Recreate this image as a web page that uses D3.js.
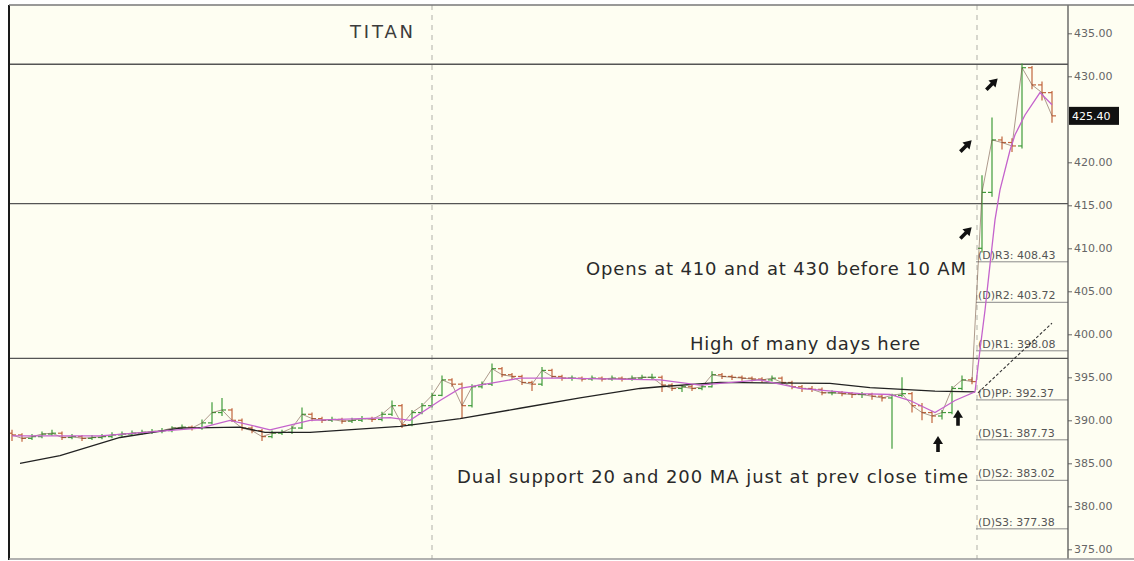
<!DOCTYPE html>
<html lang="en">
<head>
<meta charset="utf-8">
<script src="https://d3js.org/d3.v7.min.js"></script>
<style>
  body { margin: 0; background: #ffffff; }
  text { font-family: 'DejaVu Sans', Verdana, sans-serif; }
</style>
</head>
<body>
<div id="chart"></div>
<script>

// bar data, one bar per step (index), prices in rupees
var opens = [388.5,388.3,387.9,388.1,388.4,388.5,388.0,388.1,387.9,388.0,
  388.1,388.3,388.4,388.5,388.6,388.7,388.8,389.1,389.2,389.1,
  389.7,390.9,391.2,390.0,389.1,388.8,388.1,388.5,388.6,389.1,
  390.7,390.2,390.0,390.1,389.9,390.0,390.2,390.1,390.7,391.7,
  389.5,390.9,391.7,392.9,394.7,394.2,391.7,393.9,394.2,396.0,
  395.3,395.1,394.4,394.2,395.8,395.1,394.9,394.9,394.8,394.9,
  394.8,394.9,394.8,394.9,395.0,395.0,394.1,393.7,393.9,393.7,
  393.9,395.3,395.1,395.0,394.9,394.8,394.7,394.9,394.4,393.9,
  393.7,393.6,393.2,393.2,393.1,393.0,393.0,392.8,392.6,392.9,
  393.1,391.7,390.9,390.5,390.9,393.7,394.7,410.0,416.5,422.6,
  422.3,421.9,431.0,429.0,428.1];
var highs = [388.9,388.5,388.4,388.7,388.9,388.7,388.4,388.3,388.3,388.4,
  388.6,388.7,388.8,388.9,389.0,389.1,389.3,389.5,389.4,390.1,
  392.1,392.6,391.4,390.2,389.3,389.0,388.8,388.9,389.4,391.5,
  390.9,390.4,390.4,390.3,390.3,390.5,390.4,391.0,392.3,391.9,
  391.2,392.0,393.2,395.2,394.9,394.4,394.2,394.5,396.6,396.2,
  395.5,395.3,394.6,396.2,396.0,395.3,395.2,395.1,395.2,395.1,
  395.2,395.1,395.2,395.3,395.4,395.2,394.3,394.1,394.1,394.2,
  395.7,395.5,395.3,395.2,395.1,395.0,395.2,395.1,394.6,394.1,
  394.0,393.8,393.5,393.4,393.3,393.3,393.2,393.0,393.1,395.0,
  393.3,392.0,391.1,391.2,394.0,395.2,395.0,418.5,425.2,423.0,
  422.8,431.5,431.2,429.4,428.3];
var lows = [387.6,387.5,387.7,387.9,388.2,387.7,387.8,387.6,387.7,387.8,
  387.9,388.1,388.2,388.3,388.4,388.5,388.6,388.9,388.8,388.9,
  389.5,390.5,389.8,388.8,388.5,387.6,387.9,388.3,388.4,389.0,
  389.9,389.7,389.8,389.6,389.7,389.8,389.8,389.9,390.5,389.1,
  389.3,390.7,391.5,392.8,393.9,390.2,391.5,393.7,394.0,395.0,
  394.8,394.1,393.4,394.0,394.9,394.6,394.6,394.5,394.6,394.5,
  394.6,394.5,394.6,394.7,394.7,393.3,393.4,393.3,393.4,393.5,
  393.8,394.8,394.7,394.6,394.5,394.4,394.5,394.1,393.6,393.3,
  393.3,392.9,392.9,392.8,392.6,392.6,392.4,392.2,386.7,392.7,
  390.9,390.0,389.7,390.1,390.7,393.5,394.2,409.5,416.0,421.5,
  421.2,421.6,428.5,427.2,424.6];
var closes = [388.3,387.9,388.1,388.4,388.5,388.0,388.1,387.9,388.0,388.1,
  388.3,388.4,388.5,388.6,388.7,388.8,389.1,389.2,389.1,389.7,
  390.9,391.2,390.0,389.1,388.8,388.1,388.5,388.6,389.1,390.7,
  390.2,390.0,390.1,389.9,390.0,390.2,390.1,390.7,391.7,389.5,
  390.9,391.7,392.9,394.7,394.2,391.7,393.9,394.2,396.0,395.3,
  395.1,394.4,394.2,395.8,395.1,394.9,394.9,394.8,394.9,394.8,
  394.9,394.8,394.9,395.0,395.0,394.1,393.7,393.9,393.7,393.9,
  395.3,395.1,395.0,394.9,394.8,394.7,394.9,394.4,393.9,393.7,
  393.6,393.2,393.2,393.1,393.0,393.0,392.8,392.6,392.9,393.1,
  391.7,390.9,390.5,390.9,393.7,394.7,394.5,416.5,422.6,422.3,
  421.9,431.0,429.0,428.1,425.4];

// moving averages as [bar index, price]
var ma20 = [[0,388.2],[8.8,388.2],[18.8,389.1],[21.8,390.0],[25.8,388.9],[29.8,390.0],
  [37.8,390.3],[39.8,390.0],[42.8,392.3],[44.8,393.7],[47.8,394.3],[50.8,394.9],
  [54.8,394.9],[64.8,394.7],[68.8,394.1],[74.8,394.7],[78.8,393.7],[84.8,393.1],
  [87.8,393.0],[89.8,392.3],[92.3,390.9],[94.3,392.3],[96.3,393.3],[96.8,398.2],
  [97.3,402.8],[97.8,408.1],[98.3,413.3],[98.8,416.8],[99.8,421.4],[100.3,423.2],
  [101.3,425.5],[102.8,428.1],[104,426.7]];
var ma200 = [[0.8,385.0],[4.8,385.9],[10.8,388.0],[16.8,389.1],[22.8,389.2],[25.3,388.6],
  [29.8,388.6],[38.8,389.3],[44.8,390.2],[50.8,391.4],[56.8,392.6],[62.8,393.7],
  [64.8,393.9],[70.8,394.4],[81.8,394.3],[85.8,393.8],[92.3,393.4],[96.3,393.3]];
var ma200Today = [[96.6,393.2],[104,401.3]];

// levels
var hLines = [431.4, 415.2, 397.2];
var daySplits = [42, 96.5];
var pivotNames = ["R3", "R2", "R1", "PP", "S1", "S2", "S3"];
var pivotValues = [408.43, 403.72, 398.08, 392.37, 387.73, 383.02, 377.38];
var priceTicks = [375, 380, 385, 390, 395, 400, 405, 410, 415, 420, 430, 435];
var lastPrice = 425.40;

// annotations [bar index, price]
var notes = [
  {text: "TITAN", at: [33.8, 434.45], anchor: "start", len: 63, size: 18, color: "#3c3c3c"},
  {text: "Opens at 410 and at 430 before 10 AM", at: [95.4, 406.95], anchor: "end", len: 380, size: 18, color: "#2a2a2a"},
  {text: "High of many days here", at: [90.8, 398.2], anchor: "end", len: 230, size: 18, color: "#2a2a2a"},
  {text: "Dual support 20 and 200 MA just at prev close time", at: [95.6, 382.7], anchor: "end", len: 511, size: 18, color: "#2a2a2a"}
];
var arrowsNE = [[95.4, 411.8], [95.4, 421.9], [98, 429.1]];
var arrowsUp = [[94.6, 390.3], [92.6, 387.25]];

////////////////////////////////////////////////////////////
/////////////////////// Scales /////////////////////////////
////////////////////////////////////////////////////////////

var width = 1134, height = 561;
var plotLeft = 9, plotTop = 5, plotBottom = 559, axisX = 1068;

var x = d3.scaleLinear().domain([0, 104]).range([12, 1052]);
var y = d3.scaleLinear().domain([375, 435]).range([549.3, 33.3]);

var svg = d3.select("#chart").append("svg")
  .attr("width", width)
  .attr("height", height);

svg.append("rect")
  .attr("x", plotLeft).attr("y", plotTop)
  .attr("width", width - plotLeft).attr("height", plotBottom - plotTop)
  .attr("fill", "#fefef2");

////////////////////////////////////////////////////////////
////////////////////// Grid bits ///////////////////////////
////////////////////////////////////////////////////////////

svg.selectAll("line.split")
  .data(daySplits)
  .enter().append("line")
  .attr("class", "split")
  .attr("x1", d => x(d)).attr("x2", d => x(d))
  .attr("y1", plotTop).attr("y2", plotBottom)
  .attr("stroke", "#b0b0a8")
  .attr("stroke-dasharray", "5,5");

svg.selectAll("line.level")
  .data(hLines)
  .enter().append("line")
  .attr("class", "level")
  .attr("x1", plotLeft).attr("x2", axisX)
  .attr("y1", d => y(d)).attr("y2", d => y(d))
  .attr("stroke", "#555")
  .attr("stroke-width", 1.3);

// pivot levels
var pivots = svg.selectAll("g.pivot")
  .data(pivotValues)
  .enter().append("g")
  .attr("class", "pivot");

pivots.append("line")
  .attr("x1", x(96.4)).attr("x2", axisX)
  .attr("y1", d => y(d)).attr("y2", d => y(d))
  .attr("stroke", "#8a8a8a");

pivots.append("text")
  .attr("x", x(96.5) + 1)
  .attr("y", d => y(d) - 3)
  .attr("font-size", 11)
  .attr("fill", "#555")
  .text((d, i) => "(D)" + pivotNames[i] + ": " + d.toFixed(2));

////////////////////////////////////////////////////////////
//////////////////////// Bars //////////////////////////////
////////////////////////////////////////////////////////////

var bars = svg.selectAll("g.bar")
  .data(closes)
  .enter().append("g")
  .attr("class", "bar")
  .attr("stroke", (d, i) => d >= opens[i] ? "#3f9b3a" : "#c0643c")
  .attr("stroke-width", 1.2);

bars.append("line")
  .attr("x1", (d, i) => x(i)).attr("x2", (d, i) => x(i))
  .attr("y1", (d, i) => y(highs[i])).attr("y2", (d, i) => y(lows[i]));
bars.append("line")
  .attr("x1", (d, i) => x(i) - 4).attr("x2", (d, i) => x(i))
  .attr("y1", (d, i) => y(opens[i])).attr("y2", (d, i) => y(opens[i]));
bars.append("line")
  .attr("x1", (d, i) => x(i)).attr("x2", (d, i) => x(i) + 4)
  .attr("y1", d => y(d)).attr("y2", d => y(d));

// thin close path so the series reads as one trace
svg.append("path")
  .datum(closes)
  .attr("fill", "none")
  .attr("stroke", "#6b4a3a")
  .attr("stroke-width", 0.8)
  .attr("opacity", 0.7)
  .attr("d", d3.line().x((d, i) => x(i)).y(d => y(d)));

////////////////////////////////////////////////////////////
/////////////////// Moving averages ////////////////////////
////////////////////////////////////////////////////////////

var maLine = d3.line().x(d => x(d[0])).y(d => y(d[1]));

svg.append("path").datum(ma200)
  .attr("fill", "none").attr("stroke", "#222").attr("stroke-width", 1.3)
  .attr("d", maLine);

svg.append("path").datum(ma200Today)
  .attr("fill", "none").attr("stroke", "#333").attr("stroke-width", 1.1)
  .attr("stroke-dasharray", "3,2")
  .attr("d", maLine);

svg.append("path").datum(ma20)
  .attr("fill", "none").attr("stroke", "#c463cc").attr("stroke-width", 1.3)
  .attr("d", maLine);

////////////////////////////////////////////////////////////
///////////////////// Annotations //////////////////////////
////////////////////////////////////////////////////////////

svg.selectAll("text.note")
  .data(notes)
  .enter().append("text")
  .attr("class", "note")
  .attr("x", d => x(d.at[0]))
  .attr("y", d => y(d.at[1]))
  .attr("text-anchor", d => d.anchor)
  .attr("font-size", d => d.size)
  .attr("textLength", d => d.len)
  .attr("lengthAdjust", "spacing")
  .attr("fill", d => d.color)
  .text(d => d.text);

var arrowShape = "M-1.8,8 L-1.8,0 L-5,0 L0,-8 L5,0 L1.8,0 L1.8,8 Z";

svg.selectAll("path.arrowNE")
  .data(arrowsNE)
  .enter().append("path")
  .attr("class", "arrowNE")
  .attr("transform", d => "translate(" + x(d[0]) + "," + y(d[1]) + ") rotate(45)")
  .attr("d", arrowShape)
  .attr("fill", "#111");

svg.selectAll("path.arrowUp")
  .data(arrowsUp)
  .enter().append("path")
  .attr("class", "arrowUp")
  .attr("transform", d => "translate(" + x(d[0]) + "," + y(d[1]) + ")")
  .attr("d", arrowShape)
  .attr("fill", "#111");

////////////////////////////////////////////////////////////
///////////////////////// Axis /////////////////////////////
////////////////////////////////////////////////////////////

var axis = svg.append("g")
  .attr("transform", "translate(" + axisX + ",0)")
  .call(d3.axisRight(y).tickValues(priceTicks).tickSize(4).tickPadding(2)
    .tickFormat(d3.format(".2f")));
axis.select(".domain").remove();
axis.selectAll("line").attr("stroke", "#666");
axis.selectAll("text")
  .attr("font-size", 11)
  .attr("fill", "#666")
  .attr("font-family", "'DejaVu Sans', Verdana, sans-serif");

svg.append("line")
  .attr("x1", axisX).attr("x2", axisX)
  .attr("y1", plotTop).attr("y2", plotBottom)
  .attr("stroke", "#555").attr("stroke-width", 1.3);

// last price tag
svg.append("rect")
  .attr("x", axisX + 1).attr("y", y(lastPrice) - 9)
  .attr("width", 50).attr("height", 18)
  .attr("fill", "#111");
svg.append("text")
  .attr("x", axisX + 4).attr("y", y(lastPrice) + 4)
  .attr("font-size", 11)
  .attr("fill", "#fff")
  .text(lastPrice.toFixed(2));

// frame
svg.append("line")
  .attr("x1", plotLeft).attr("x2", plotLeft)
  .attr("y1", plotTop).attr("y2", plotBottom + 1)
  .attr("stroke", "#1a1a1a").attr("stroke-width", 2);
svg.append("line")
  .attr("x1", plotLeft).attr("x2", width)
  .attr("y1", plotTop).attr("y2", plotTop)
  .attr("stroke", "#777").attr("stroke-width", 1.5);
svg.append("line")
  .attr("x1", plotLeft).attr("x2", width)
  .attr("y1", plotBottom).attr("y2", plotBottom)
  .attr("stroke", "#999").attr("stroke-width", 1.5);

</script>
</body>
</html>
